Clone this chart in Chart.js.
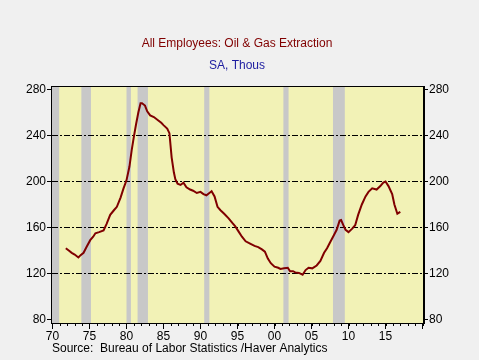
<!DOCTYPE html>
<html>
<head>
<meta charset="utf-8">
<script src="https://cdn.jsdelivr.net/npm/chart.js@4/dist/chart.umd.min.js"></script>
<style>
  html, body { margin: 0; padding: 0; background: #f0f0f0; }
  canvas { display: block; }
</style>
</head>
<body>
<canvas id="myChart" width="479" height="360"></canvas>
<script>
// Data: All Employees, Oil & Gas Extraction (SA, thousands)
const dates = [
  1971.8, 1972.2, 1972.6, 1973.0, 1973.5, 1973.8, 1974.2, 1974.6, 1975.1, 1975.5,
  1975.8, 1976.3, 1976.9, 1977.3, 1977.8, 1978.3, 1978.7, 1979.2, 1979.6, 1980.0,
  1980.4, 1980.7, 1981.0, 1981.3, 1981.6, 1981.9, 1982.1, 1982.5, 1982.8, 1983.2,
  1983.7, 1984.3, 1984.7, 1985.0, 1985.5, 1985.8, 1986.1, 1986.4, 1986.6, 1986.9,
  1987.3, 1987.7, 1988.1, 1988.6, 1989.0, 1989.5, 1990.0, 1990.4, 1990.8, 1991.2,
  1991.5, 1991.9, 1992.3, 1992.7, 1993.2, 1993.8, 1994.3, 1994.7, 1995.2, 1995.6,
  1996.1, 1996.7, 1997.3, 1997.8, 1998.3, 1998.7, 1999.1, 1999.5, 2000.0, 2000.5,
  2000.8, 2001.3, 2001.8, 2002.1, 2002.5, 2002.8, 2003.3, 2003.8, 2004.2, 2004.6,
  2005.1, 2005.7, 2006.2, 2006.7, 2007.1, 2007.5, 2008.0, 2008.4, 2008.8, 2009.0,
  2009.3, 2009.6, 2010.0, 2010.5, 2010.9, 2011.3, 2011.8, 2012.3, 2012.7, 2013.2,
  2013.8, 2014.3, 2014.7, 2015.0, 2015.4, 2015.9, 2016.2, 2016.6, 2017.0
];
const employees = [
  142, 140, 138, 136.5, 134, 136, 138, 143, 149, 152,
  155, 156, 157.5, 163, 171, 175, 178, 186, 194, 201,
  213, 227, 239, 250, 260, 268, 268, 266, 261, 257.5,
  256, 253, 251, 249, 246, 242, 221, 208, 202, 198,
  197, 199, 195, 193, 192, 190, 191, 189, 188, 190,
  191.5, 187, 178, 175, 172, 168, 164, 161, 156, 152,
  148, 146, 144, 143, 141, 139, 133, 129, 126, 125,
  124, 124.5, 125, 122, 122, 121, 120.5, 119, 123, 125,
  124.5, 127, 131, 138, 142, 147, 153, 158, 166, 166.5,
  162, 158, 156, 159, 162, 171, 180, 187, 191, 194,
  193, 196, 199, 200, 196, 189, 180, 172, 173.5
];

// NBER recessions (shaded bars)
const recessionStart = [1969.9, 1973.9, 1980.0, 1981.5, 1990.5, 2001.2, 2007.9];
const recessionEnd   = [1970.9, 1975.2, 1980.6, 1982.9, 1991.2, 2001.9, 2009.5];

// axis ticks
const yTickValues = [80, 120, 160, 200, 240, 280];
const xMajorYears = [1970, 1975, 1980, 1985, 1990, 1995, 2000, 2005, 2010, 2015, 2020];

const titleText = 'All Employees: Oil & Gas Extraction';
const subtitleText = 'SA, Thous';
const sourceText = 'Source:  Bureau of Labor Statistics /Haver Analytics';

const font = 'Liberation Sans, Arial, sans-serif';

// yearly ticks for the x axis
const xYears = [];
for (let y = 1970; y <= 2020; y++) {
  xYears.push(y);
}

const points = dates.map((d, i) => ({ x: d, y: employees[i] }));

// background, plot area and recession bars
const backgroundPlugin = {
  id: 'background',
  beforeDraw(chart) {
    const ctx = chart.ctx;
    const area = chart.chartArea;
    const x = chart.scales.x;
    ctx.save();
    ctx.fillStyle = '#f0f0f0';
    ctx.fillRect(0, 0, chart.width, chart.height);
    ctx.fillStyle = '#f2f2b6';
    ctx.fillRect(area.left, area.top, area.right - area.left, area.bottom - area.top);
    ctx.fillStyle = '#c8c8c8';
    for (let i = 0; i < recessionStart.length; i++) {
      const x1 = x.getPixelForValue(recessionStart[i]);
      const x2 = x.getPixelForValue(recessionEnd[i]);
      ctx.fillRect(x1, area.top, x2 - x1, area.bottom - area.top);
    }
    ctx.restore();
  },
  afterDraw(chart) {
    const ctx = chart.ctx;
    const area = chart.chartArea;
    const x = chart.scales.x;
    ctx.save();
    // frame round the plot
    ctx.strokeStyle = '#000';
    ctx.lineWidth = 1;
    ctx.strokeRect(Math.round(area.left) + 0.5, Math.round(area.top) + 0.5,
      Math.round(area.right - area.left) - 1, Math.round(area.bottom - area.top));
    // minor year ticks
    ctx.beginPath();
    xYears.forEach((y) => {
      const px = Math.round(x.getPixelForValue(y)) + 0.5;
      ctx.moveTo(px, area.bottom);
      ctx.lineTo(px, area.bottom + 3);
    });
    ctx.stroke();
    // texts
    ctx.font = '12px ' + font;
    ctx.textAlign = 'center';
    ctx.textBaseline = 'alphabetic';
    ctx.fillStyle = '#800000';
    ctx.fillText(titleText, 237, 47);
    ctx.fillStyle = '#1c1ca0';
    ctx.fillText(subtitleText, 237, 69);
    ctx.textAlign = 'left';
    ctx.fillStyle = '#000';
    ctx.fillText(sourceText, 52, 352);
    ctx.restore();
  }
};

const config = {
  type: 'line',
  data: {
    datasets: [{
      label: 'Oil & Gas Extraction',
      data: points,
      borderColor: '#800000',
      borderWidth: 2,
      pointRadius: 0,
      tension: 0,
      fill: false
    }]
  },
  options: {
    responsive: false,
    animation: false,
    layout: { padding: { top: 86, left: 0, right: 0, bottom: 17 } },
    plugins: {
      legend: { display: false },
      tooltip: { enabled: false }
    },
    scales: {
      x: {
        type: 'linear',
        min: 1969.8,
        max: 2020.2,
        afterBuildTicks: (scale) => {
          scale.ticks = xYears.map((v) => ({ value: v }));
        },
        afterFit: (scale) => { scale.height = 20; },
        grid: {
          drawOnChartArea: false,
          tickLength: 6,
          tickColor: (c) => (c.tick && c.tick.value % 5 === 0 ? '#000' : 'rgba(0,0,0,0)')
        },
        border: { color: '#000' },
        ticks: {
          autoSkip: false,
          maxRotation: 0,
          padding: 0,
          color: '#000',
          font: { family: font, size: 12 },
          callback: (v) => (xMajorYears.includes(v) && v < 2020 ? String(v % 100).padStart(2, '0') : '')
        }
      },
      y: {
        position: 'left',
        min: 77,
        max: 283,
        afterBuildTicks: (scale) => {
          scale.ticks = yTickValues.map((v) => ({ value: v }));
        },
        afterFit: (scale) => { scale.width = 51; },
        grid: {
          color: (c) => (c.tick && (c.tick.value === 80 || c.tick.value === 280) ? 'rgba(0,0,0,0)' : '#000'),
          lineWidth: 1,
          tickLength: 4,
          tickColor: '#000'
        },
        border: { color: '#000', dash: [6, 2, 2, 2] },
        ticks: {
          padding: 1,
          color: '#000',
          font: { family: font, size: 12 }
        }
      },
      y2: {
        position: 'right',
        min: 77,
        max: 283,
        afterBuildTicks: (scale) => {
          scale.ticks = yTickValues.map((v) => ({ value: v }));
        },
        afterFit: (scale) => { scale.width = 55; },
        grid: {
          drawOnChartArea: false,
          tickLength: 4,
          tickColor: '#000'
        },
        border: { color: '#000' },
        ticks: {
          padding: 1,
          color: '#000',
          font: { family: font, size: 12 }
        }
      }
    }
  },
  plugins: [backgroundPlugin]
};

const canvas = document.getElementById('myChart');
if (canvas) {
  const myChart = new Chart(canvas, config);
} else {
  console.error('Canvas element not found');
}
</script>
</body>
</html>
